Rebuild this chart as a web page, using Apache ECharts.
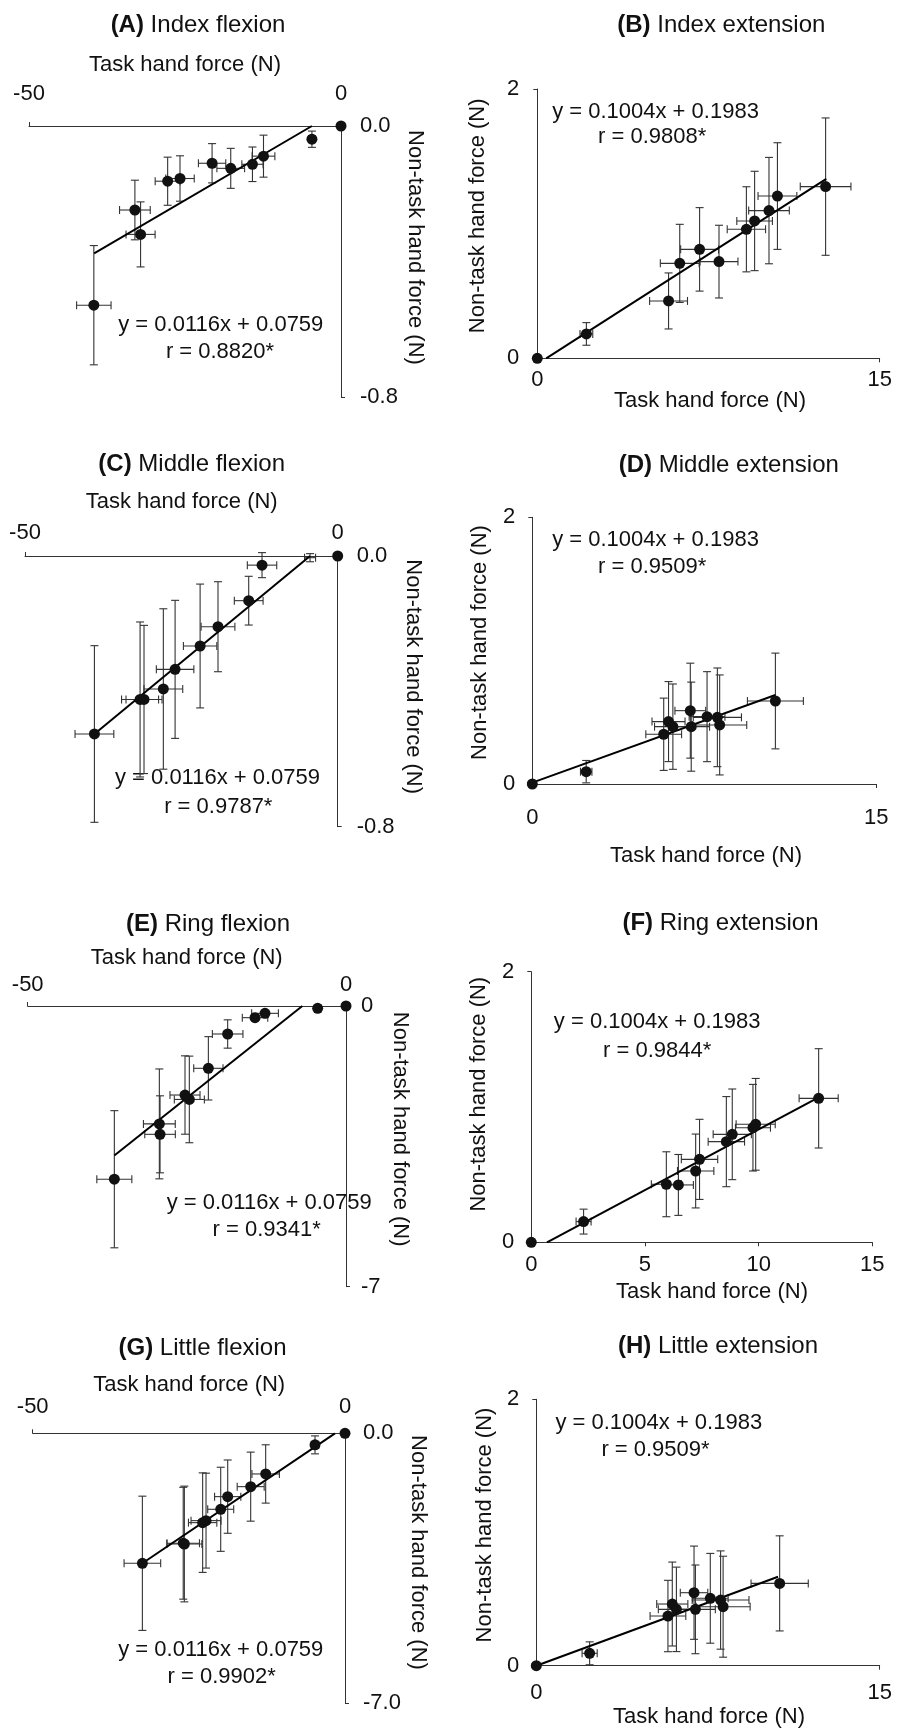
<!DOCTYPE html>
<html><head><meta charset="utf-8">
<script src="https://cdn.jsdelivr.net/npm/echarts/dist/echarts.min.js"></script>
<style>html,body{margin:0;padding:0;background:#fff}#c{width:906px;height:1729px}</style>
</head><body><div id="c"></div>
<script>
// ---------------- DATA ----------------
const panelIds = ['A','B','C','D','E','F','G','H'];
const panelLetters = ['(A)','(B)','(C)','(D)','(E)','(F)','(G)','(H)'];
const panelNames = ['Index flexion','Index extension','Middle flexion','Middle extension','Ring flexion','Ring extension','Little flexion','Little extension'];
const xAxisName = 'Task hand force (N)';
const yAxisName = 'Non-task hand force (N)';
const flexEquation = 'y = 0.0116x + 0.0759';
const extEquation = 'y = 0.1004x + 0.1983';
const rValues = ['r = 0.8820*','r = 0.9808*','r = 0.9787*','r = 0.9509*','r = 0.9341*','r = 0.9844*','r = 0.9902*','r = 0.9509*'];

// tick values
const flexXTicks = [-50, 0];
const extXTicks = [0, 15];
const ringExtXTicks = [0, 5, 10, 15];
const extYTicks = [0, 2];
const flexYTicksAC = [-0.8, 0];
const flexYTicksE = [-7, 0];
const flexYTicksG = [-7, 0];
const yTickDecimals = {A:1, C:1, E:0, G:1, B:0, D:0, F:0, H:0};

// (A) Index flexion
const A_x    = [0, -4.66, -12.42, -14.19, -17.67, -20.66, -25.8, -27.78, -33.03, -32.12, -39.61];
const A_y    = [0, -0.039, -0.089, -0.113, -0.125, -0.110, -0.155, -0.163, -0.248, -0.320, -0.529];
const A_xerr = [0, 0.5, 1.82, 1.7, 2.22, 2.19, 2.28, 2.0, 2.46, 2.33, 2.76];
const A_yerr = [0, 0.024, 0.062, 0.051, 0.059, 0.058, 0.067, 0.071, 0.088, 0.096, 0.176];
const A_fit  = [[-39.56, -0.376], [-4.66, 0]];

// (B) Index extension
const B_x    = [0, 2.15, 5.75, 6.24, 7.11, 7.96, 9.16, 9.52, 10.15, 10.52, 12.63];
const B_y    = [0, 0.181, 0.426, 0.705, 0.809, 0.718, 0.958, 1.02, 1.097, 1.205, 1.275];
const B_xerr = [0, 0.28, 0.83, 0.85, 0.83, 0.83, 0.84, 0.78, 0.89, 0.85, 1.11];
const B_yerr = [0, 0.084, 0.208, 0.29, 0.31, 0.27, 0.316, 0.369, 0.395, 0.396, 0.51];
const B_fit  = [[0.39, 0], [12.66, 1.332]];

// (C) Middle flexion
const C_x    = [0, -4.42, -12.1, -14.23, -19.14, -22.0, -26.0, -27.88, -31.6, -30.97, -38.9];
const C_y    = [0, -0.005, -0.027, -0.132, -0.209, -0.266, -0.335, -0.393, -0.424, -0.424, -0.526];
const C_xerr = [0, 0.88, 2.35, 2.3, 2.7, 2.67, 3.0, 3.1, 2.96, 2.88, 3.1];
const C_yerr = [0, 0.012, 0.037, 0.072, 0.133, 0.183, 0.204, 0.237, 0.229, 0.219, 0.261];
const C_noDot = [1];
const C_fit  = [[-38.9, -0.526], [-4.42, 0]];

// (D) Middle extension
const D_x    = [0, 2.35, 5.73, 5.94, 6.13, 6.89, 6.93, 7.62, 8.07, 8.17, 10.6];
const D_y    = [0, 0.0925, 0.373, 0.468, 0.43, 0.55, 0.43, 0.505, 0.50, 0.443, 0.6225];
const D_xerr = [0, 0.25, 0.78, 0.72, 0.8, 0.67, 0.8, 0.78, 1.05, 1.18, 1.22];
const D_yerr = [0, 0.084, 0.271, 0.30, 0.32, 0.356, 0.334, 0.3375, 0.37, 0.375, 0.359];
const D_fit  = [[0, 0.01], [10.6, 0.6675]];

// (E) Ring flexion
const E_x    = [0, -4.45, -12.72, -14.29, -18.59, -21.62, -25.29, -24.61, -29.32, -29.21, -36.39];
const E_y    = [0, -0.058, -0.183, -0.291, -0.698, -1.554, -2.22, -2.33, -2.94, -3.20, -4.32];
const E_xerr = [0, 0.5, 2.1, 2.0, 2.4, 2.3, 2.36, 2.36, 2.5, 2.4, 2.75];
const E_yerr = [0, 0.05, 0.05, 0.05, 0.353, 0.79, 0.977, 1.08, 1.37, 0.96, 1.71];
const E_fit  = [[-36.39, -3.73], [-6.86, 0]];

// (F) Ring extension
const F_x    = [0, 2.30, 5.94, 6.47, 7.23, 7.40, 8.58, 8.84, 9.75, 9.87, 12.64];
const F_y    = [0, 0.153, 0.429, 0.424, 0.527, 0.613, 0.744, 0.798, 0.847, 0.872, 1.064];
const F_xerr = [0, 0.33, 0.66, 0.66, 0.8, 0.8, 0.8, 0.84, 0.77, 0.86, 0.86];
const F_yerr = [0, 0.092, 0.24, 0.225, 0.273, 0.296, 0.333, 0.335, 0.32, 0.339, 0.367];
const F_fit  = [[0.69, 0], [12.64, 1.071]];

// (G) Little flexion
const G_x    = [0, -4.8, -12.7, -15.1, -18.78, -19.9, -22.25, -22.79, -25.72, -25.9, -32.44];
const G_y    = [0, -0.30, -1.054, -1.383, -1.642, -1.97, -2.264, -2.316, -2.87, -2.85, -3.37];
const G_xerr = [0, 0.6, 2.2, 2.16, 2.1, 2.08, 2.4, 2.27, 2.8, 2.6, 2.93];
const G_yerr = [0, 0.233, 0.756, 0.895, 0.95, 1.09, 1.23, 1.29, 1.50, 1.45, 1.74];
const G_fit  = [[-32.44, -3.37], [-1.6, 0]];

// (H) Little extension
const H_x    = [0, 2.33, 5.75, 5.94, 6.12, 6.89, 6.95, 7.60, 8.05, 8.16, 10.63];
const H_y    = [0, 0.093, 0.373, 0.463, 0.423, 0.548, 0.423, 0.506, 0.493, 0.443, 0.618];
const H_xerr = [0, 0.33, 0.78, 0.68, 0.79, 0.6, 0.87, 0.78, 1.24, 1.18, 1.25];
const H_yerr = [0, 0.086, 0.268, 0.315, 0.317, 0.35, 0.333, 0.337, 0.369, 0.379, 0.357];
const H_fit  = [[0, 0], [10.56, 0.668]];

// ---------------- LAYOUT ----------------
const FONT = '"Liberation Sans", Arial, Helvetica, sans-serif';
const TXT = '#111';
const AX = '#333';
const layout = {
  A:{flex:true, grid:[29,126,312,271], xm:21, ym:19, title:[198,25.7], xn:[185,65], yn:[415,247.5], e1:[220.8,325], e2:[220,351.7]},
  B:{flex:false, grid:[537.3,89,342.4,269.3], xm:11, ym:18, title:[721.3,25], xn:[710,401], yn:[478,215.8], e1:[655.5,111.7], e2:[652.2,137.3]},
  C:{flex:true, grid:[25,556,312.7,270.7], xm:12, ym:19, title:[191.7,464], xn:[181.7,502.3], yn:[413.3,676.7], e1:[217.5,778.3], e2:[218.3,806.7]},
  D:{flex:false, grid:[532.3,517.3,344,266.7], xm:23, ym:17, title:[728.8,465], xn:[706,856], yn:[479.7,642.5], e1:[655.5,540], e2:[652.2,566.7]},
  E:{flex:true, grid:[27.7,1006,318.3,280.7], xm:10, ym:15, title:[208,924], xn:[186.7,958.3], yn:[400,1129.2], e1:[269.2,1203.3], e2:[266.7,1230]},
  F:{flex:false, grid:[531.3,971.7,341,270.6], xm:12, ym:17, title:[720.5,923.3], xn:[712,1291.7], yn:[479,1094.2], e1:[657.2,1022.3], e2:[657.2,1050.7]},
  G:{flex:true, grid:[32.7,1433.3,312.3,270], xm:15, ym:18, title:[202.5,1348.3], xn:[189.2,1385], yn:[418.3,1552.5], e1:[220.8,1650], e2:[221.7,1676.7]},
  H:{flex:false, grid:[536.3,1399.3,343.4,266.4], xm:16, ym:17, title:[718,1346.7], xn:[709,1716.7], yn:[484.7,1525], e1:[658.8,1423.3], e2:[655.5,1450]}
};
const dataSets = {
  A:{x:A_x,y:A_y,ex:A_xerr,ey:A_yerr,fit:A_fit,xt:flexXTicks,yt:flexYTicksAC},
  B:{x:B_x,y:B_y,ex:B_xerr,ey:B_yerr,fit:B_fit,xt:extXTicks,yt:extYTicks},
  C:{x:C_x,y:C_y,ex:C_xerr,ey:C_yerr,fit:C_fit,xt:flexXTicks,yt:flexYTicksAC,noDot:C_noDot},
  D:{x:D_x,y:D_y,ex:D_xerr,ey:D_yerr,fit:D_fit,xt:extXTicks,yt:extYTicks},
  E:{x:E_x,y:E_y,ex:E_xerr,ey:E_yerr,fit:E_fit,xt:flexXTicks,yt:flexYTicksE},
  F:{x:F_x,y:F_y,ex:F_xerr,ey:F_yerr,fit:F_fit,xt:ringExtXTicks,yt:extYTicks},
  G:{x:G_x,y:G_y,ex:G_xerr,ey:G_yerr,fit:G_fit,xt:flexXTicks,yt:flexYTicksG},
  H:{x:H_x,y:H_y,ex:H_xerr,ey:H_yerr,fit:H_fit,xt:extXTicks,yt:extYTicks}
};

function renderErr(params, api){
  const x = api.value(0), y = api.value(1), ex = api.value(2), ey = api.value(3);
  const cap = 4, ch = [];
  const st = {stroke:'#333', lineWidth:1.1};
  if (ex > 0) {
    const l = api.coord([x-ex, y]), r = api.coord([x+ex, y]);
    ch.push({type:'line', shape:{x1:l[0],y1:l[1],x2:r[0],y2:r[1]}, style:st});
    ch.push({type:'line', shape:{x1:l[0],y1:l[1]-cap,x2:l[0],y2:l[1]+cap}, style:st});
    ch.push({type:'line', shape:{x1:r[0],y1:r[1]-cap,x2:r[0],y2:r[1]+cap}, style:st});
  }
  if (ey > 0) {
    const t = api.coord([x, y+ey]), b = api.coord([x, y-ey]);
    ch.push({type:'line', shape:{x1:t[0],y1:t[1],x2:b[0],y2:b[1]}, style:st});
    ch.push({type:'line', shape:{x1:t[0]-cap,y1:t[1],x2:t[0]+cap,y2:t[1]}, style:st});
    ch.push({type:'line', shape:{x1:b[0]-cap,y1:b[1],x2:b[0]+cap,y2:b[1]}, style:st});
  }
  return {type:'group', children:ch};
}

const grids = [], xAxes = [], yAxes = [], series = [], elements = [];
panelIds.forEach((id, i) => {
  const L = layout[id], D = dataSets[id];
  grids.push({left:L.grid[0], top:L.grid[1], width:L.grid[2], height:L.grid[3], containLabel:false});
  const dec = yTickDecimals[id];
  const axLine = {show:true, onZero:false, lineStyle:{color:AX, width:1}};
  const axTick = {show:true, length:4, lineStyle:{color:AX, width:1}};
  xAxes.push({
    gridIndex:i, type:'value', position: L.flex ? 'top' : 'bottom',
    min:D.xt[0], max:D.xt[D.xt.length-1], interval:D.xt[1]-D.xt[0],
    axisLine:axLine, axisTick:axTick, splitLine:{show:false},
    axisLabel:{fontSize:22, fontFamily:FONT, color:TXT, margin:L.xm, formatter:v=>String(v)}
  });
  yAxes.push({
    gridIndex:i, type:'value', position: L.flex ? 'right' : 'left',
    min:D.yt[0], max:D.yt[D.yt.length-1], interval:D.yt[1]-D.yt[0],
    axisLine:axLine, axisTick:axTick, splitLine:{show:false},
    axisLabel:{fontSize:22, fontFamily:FONT, color:TXT, margin:L.ym, formatter:v=>Number(v).toFixed(dec)}
  });
  const pts = D.x.map((v,j)=>[v, D.y[j], D.ex[j], D.ey[j]]);
  series.push({type:'custom', xAxisIndex:i, yAxisIndex:i, renderItem:renderErr, data:pts, clip:false, silent:true, z:2});
  series.push({type:'line', xAxisIndex:i, yAxisIndex:i, data:D.fit, showSymbol:false, symbol:'none',
    lineStyle:{color:'#000', width:2}, silent:true, z:3, animation:false});
  const noDot = D.noDot || [];
  series.push({type:'scatter', xAxisIndex:i, yAxisIndex:i, clip:false, symbolSize:11,
    data: D.x.map((v,j)=>[v, D.y[j]]).filter((p,j)=>noDot.indexOf(j)<0),
    itemStyle:{color:'#111', opacity:1}, silent:true, z:4});

  // titles and texts
  elements.push({type:'text', x:L.title[0], y:L.title[1], style:{
    text:'{b|'+panelLetters[i]+'} '+panelNames[i], align:'center', verticalAlign:'middle',
    fontSize:24, fontFamily:FONT, fill:TXT,
    rich:{b:{fontSize:24, fontFamily:FONT, fontWeight:'bold', fill:TXT}}
  }});
  elements.push({type:'text', x:L.xn[0], y:L.xn[1], style:{text:xAxisName, align:'center', verticalAlign:'middle', fontSize:22, fontFamily:FONT, fill:TXT}});
  elements.push({type:'text', x:L.yn[0], y:L.yn[1], rotation: L.flex ? -Math.PI/2 : Math.PI/2,
    style:{text:yAxisName, align:'center', verticalAlign:'middle', fontSize:22, fontFamily:FONT, fill:TXT}});
  elements.push({type:'text', x:L.e1[0], y:L.e1[1], style:{text: L.flex ? flexEquation : extEquation, align:'center', verticalAlign:'middle', fontSize:22, fontFamily:FONT, fill:TXT}});
  elements.push({type:'text', x:L.e2[0], y:L.e2[1], style:{text:rValues[i], align:'center', verticalAlign:'middle', fontSize:22, fontFamily:FONT, fill:TXT}});
});

const chart = echarts.init(document.getElementById('c'), null, {renderer:'canvas', width:906, height:1729});
chart.setOption({
  backgroundColor:'#fff',
  animation:false,
  grid:grids, xAxis:xAxes, yAxis:yAxes, series:series,
  graphic:{elements:elements}
});
</script></body></html>
